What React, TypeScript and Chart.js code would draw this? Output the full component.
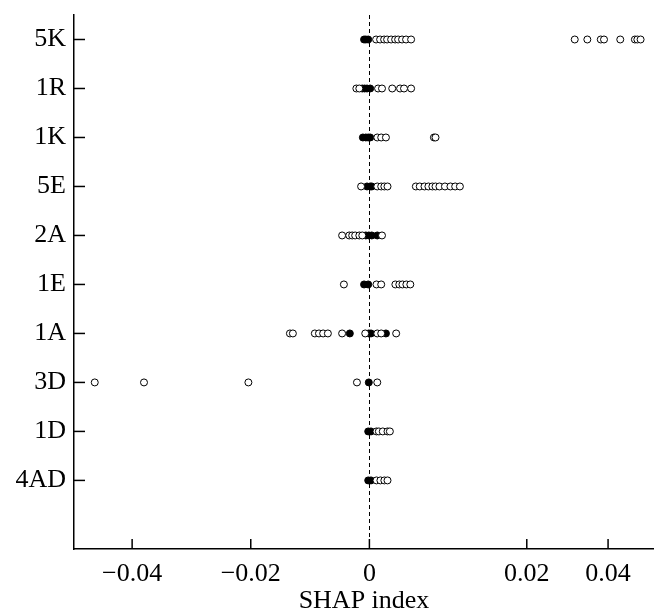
import React, { useEffect, useRef } from 'react';
import { Chart, registerables, LinearScale } from 'chart.js';

Chart.register(...registerables);

// ---------- data ----------
const categories = ['5K', '1R', '1K', '5E', '2A', '1E', '1A', '3D', '1D', '4AD'];
const xTickValues = [-0.04, -0.02, 0, 0.02, 0.04];
const xTickLabels = ['\u22120.04', '\u22120.02', '0', '0.02', '0.04'];

const open5K = [0.00085, 0.00136, 0.00187, 0.00225, 0.00276, 0.00327, 0.00365, 0.00415, 0.00466, 0.0053, 0.0318, 0.0349, 0.0382, 0.039, 0.043, 0.0466, 0.0472, 0.048];
const filled5K = [-0.0009, -0.0006, -0.0002];
const open1R = [-0.0022, -0.0017, 0.0011, 0.0016, 0.0029, 0.0039, 0.0044, 0.0053];
const filled1R = [-0.0012, -0.0008, -0.0004, 0.0001];
const open1K = [0.001, 0.0015, 0.0021, 0.0082, 0.0084];
const filled1K = [-0.0011, -0.0006, -0.0002, 0.0001];
const open5E = [-0.0014, 0.001, 0.0015, 0.0019, 0.0023, 0.0059, 0.0064, 0.007, 0.0075, 0.008, 0.0084, 0.0089, 0.0096, 0.0103, 0.0109, 0.0115];
const filled5E = [-0.0004, 0.0001, 0.0003];
const open2A = [-0.0046, -0.0034, -0.0029, -0.0024, -0.0017, -0.0012, 0.0016];
const filled2A = [-0.0006, -0.0001, 0.0003, 0.001];
const open1E = [-0.0043, 0.0009, 0.0015, 0.0033, 0.0038, 0.0042, 0.0047, 0.0052];
const filled1E = [-0.0009, -0.0002];
const open1A = [-0.0134, -0.0129, -0.0092, -0.0085, -0.0078, -0.007, -0.0046, -0.0007, 0.001, 0.0015, 0.0034];
const filled1A = [-0.0033, -0.0001, 0.0002, 0.0021];
const open3D = [-0.0463, -0.038, -0.0204, -0.0021, 0.001];
const filled3D = [-0.0001];
const open1D = [0.0009, 0.0012, 0.0017, 0.0023, 0.0026];
const filled1D = [-0.0002, 0.0002];
const open4AD = [0.0009, 0.0014, 0.0019, 0.0023];
const filled4AD = [-0.0002, 0.0002];

const openByRow = [open5K, open1R, open1K, open5E, open2A, open1E, open1A, open3D, open1D, open4AD];
const filledByRow = [filled5K, filled1R, filled1K, filled5E, filled2A, filled1E, filled1A, filled3D, filled1D, filled4AD];

// ---------- axis (piecewise, as in the original figure) ----------
const X_MIN = -0.0498;
const X_MAX = 0.0513;
const BREAK = 0.02;
const SLOPE_MID = 1.3266;
const SLOPE_HIGH = 0.6852;

function warp(v: number) {
  if (v <= 0) return v;
  if (v <= BREAK) return v * SLOPE_MID;
  return BREAK * SLOPE_MID + (v - BREAK) * SLOPE_HIGH;
}
function unwarp(u: number) {
  if (u <= 0) return u;
  const b = BREAK * SLOPE_MID;
  if (u <= b) return u / SLOPE_MID;
  return BREAK + (u - b) / SLOPE_HIGH;
}

class WarpedScale extends LinearScale {
  static id = 'warped';
  static defaults = LinearScale.defaults;
  getPixelForValue(value: any) {
    if (value === null || value === undefined || Number.isNaN(value)) return NaN;
    const u0 = warp((this as any).min);
    const u1 = warp((this as any).max);
    return (this as any).getPixelForDecimal((warp(value) - u0) / (u1 - u0));
  }
  getValueForPixel(pixel: number) {
    const u0 = warp((this as any).min);
    const u1 = warp((this as any).max);
    return unwarp(u0 + (this as any).getDecimalForPixel(pixel) * (u1 - u0));
  }
}
Chart.register(WarpedScale as any);

const FONT = { family: '"Liberation Serif", "Times New Roman", serif', size: 26 };

function zeroPadding(s: any) {
  s.paddingTop = 0;
  s.paddingBottom = 0;
  s.paddingLeft = 0;
  s.paddingRight = 0;
}

const axisDecor = {
  id: 'axisDecor',
  beforeDatasetsDraw(chart: any) {
    const { ctx, chartArea, scales } = chart;
    const x = scales.x;
    const y = scales.y;
    ctx.save();
    ctx.strokeStyle = '#000';
    ctx.lineWidth = 1;
    ctx.setLineDash([4, 3]);
    const x0 = Math.round(x.getPixelForValue(0)) + 0.5;
    ctx.beginPath();
    ctx.moveTo(x0, chartArea.top);
    ctx.lineTo(x0, chartArea.bottom);
    ctx.stroke();
    ctx.setLineDash([]);
    ctx.lineWidth = 1.5;
    x.ticks.forEach((t: any) => {
      const px = x.getPixelForValue(t.value);
      ctx.beginPath();
      ctx.moveTo(px, chartArea.bottom);
      ctx.lineTo(px, chartArea.bottom - 10);
      ctx.stroke();
    });
    y.ticks.forEach((t: any) => {
      const py = y.getPixelForValue(t.value);
      ctx.beginPath();
      ctx.moveTo(chartArea.left, py);
      ctx.lineTo(chartArea.left + 11, py);
      ctx.stroke();
    });
    ctx.restore();
  },
};

export default function App() {
  const ref = useRef<HTMLCanvasElement | null>(null);

  useEffect(() => {
    document.body.style.margin = '0';
    if (!ref.current) return;
    const n = categories.length;
    const openData = openByRow.flatMap((vals, i) => vals.map((v) => ({ x: v, y: n - i })));
    const filledData = filledByRow.flatMap((vals, i) => vals.map((v) => ({ x: v, y: n - i })));

    const chart = new Chart(ref.current, {
      type: 'scatter',
      data: {
        datasets: [
          {
            label: 'open',
            data: openData,
            backgroundColor: '#ffffff',
            borderColor: '#000000',
            borderWidth: 1,
            pointRadius: 3.5,
            pointHoverRadius: 3.5,
            clip: false as any,
          },
          {
            label: 'filled',
            data: filledData,
            backgroundColor: '#000000',
            borderColor: '#000000',
            borderWidth: 1,
            pointRadius: 3.5,
            pointHoverRadius: 3.5,
            clip: false as any,
          },
        ],
      },
      options: {
        animation: false,
        responsive: false,
        events: [],
        layout: { autoPadding: false, padding: { top: 15, left: 0, right: 0, bottom: 0 } },
        plugins: { legend: { display: false }, tooltip: { enabled: false } },
        scales: {
          x: {
            type: 'warped' as any,
            position: 'bottom',
            min: X_MIN,
            max: X_MAX,
            bounds: 'data',
            afterBuildTicks: (s: any) => {
              s.ticks = xTickValues.map((v) => ({ value: v }));
            },
            afterFit: (s: any) => {
              s.height = 63;
              zeroPadding(s);
            },
            grid: { display: false, drawTicks: false },
            border: { display: true, color: '#000', width: 1.5 },
            ticks: {
              autoSkip: false,
              maxRotation: 0,
              padding: 10,
              color: '#000',
              font: FONT,
              callback: (_v: any, i: number) => xTickLabels[i],
            },
            title: {
              display: true,
              text: 'SHAP index',
              color: '#000',
              font: FONT,
              padding: { top: 0, bottom: -5 },
            },
          } as any,
          y: {
            type: 'linear',
            min: -0.4,
            max: 10.5,
            bounds: 'data',
            afterBuildTicks: (s: any) => {
              s.ticks = categories.map((_, i) => ({ value: n - i }));
            },
            afterFit: (s: any) => {
              s.width = 74;
              zeroPadding(s);
            },
            grid: { display: false, drawTicks: false },
            border: { display: true, color: '#000', width: 1.5 },
            ticks: {
              autoSkip: false,
              padding: 8,
              color: '#000',
              font: FONT,
              callback: (v: any) => categories[n - Number(v)],
            },
          } as any,
        },
      },
      plugins: [axisDecor],
    });
    return () => chart.destroy();
  }, []);

  return (
    <div style={{ width: 654, height: 612 }}>
      <canvas ref={ref} width={654} height={612} style={{ display: 'block' }} />
    </div>
  );
}
